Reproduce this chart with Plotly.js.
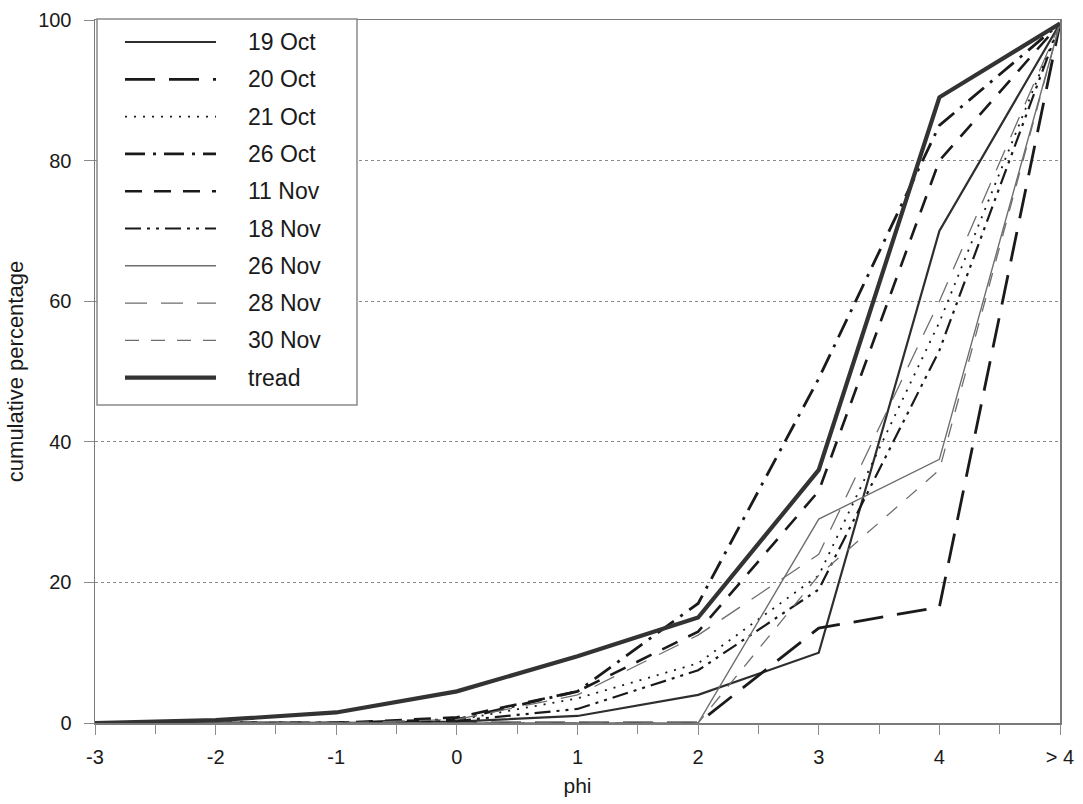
<!DOCTYPE html>
<html>
<head>
<meta charset="utf-8">
<script src="https://cdn.plot.ly/plotly-3.0.1.min.js"></script>
<style>html,body{margin:0;padding:0;background:#fff;}#chart{width:1083px;height:804px;}</style>
</head>
<body>
<div id="chart"></div>
<script>
// ---- data ----
const categories = ['-3', '-2', '-1', '0', '1', '2', '3', '4', '> 4'];
const seriesNames = ['19 Oct', '20 Oct', '21 Oct', '26 Oct', '11 Nov', '18 Nov', '26 Nov', '28 Nov', '30 Nov', 'tread'];
const oct19 = [0, 0, 0, 0.2, 1.0, 4.0, 10.0, 70.0, 99.5];
const oct20 = [0, 0, 0, 0, 0, 0, 13.5, 16.5, 99.5];
const oct21 = [0, 0, 0, 0.4, 3.5, 8.5, 21.0, 57.0, 99.5];
const oct26 = [0, 0, 0, 0.5, 4.5, 17.0, 49.0, 85.0, 99.5];
const nov11 = [0, 0, 0, 0.8, 4.5, 13.0, 33.0, 80.0, 99.5];
const nov18 = [0, 0, 0, 0.3, 2.0, 7.5, 19.0, 53.0, 99.5];
const nov26 = [0, 0, 0, 0, 0, 0, 29.0, 37.5, 99.5];
const nov28 = [0, 0, 0, 0.5, 4.0, 12.5, 24.0, 60.0, 99.5];
const nov30 = [0, 0, 0, 0, 0, 0, 21.0, 36.0, 99.5];
const tread = [0, 0.4, 1.5, 4.5, 9.5, 15.0, 36.0, 89.0, 99.5];
const yTicks = [0, 20, 40, 60, 80, 100];

// ---- styles ----
const seriesValues = [oct19, oct20, oct21, oct26, nov11, nov18, nov26, nov28, nov30, tread];
const styles = [
  {color: '#2e2e2e', width: 2.2, dash: 'solid'},
  {color: '#1a1a1a', width: 2.8, dash: '30px,14px'},
  {color: '#1a1a1a', width: 1.8, dash: '2px,7px'},
  {color: '#1a1a1a', width: 2.8, dash: '20px,8px,3px,8px'},
  {color: '#1a1a1a', width: 2.6, dash: '17px,12px'},
  {color: '#1a1a1a', width: 2.2, dash: '16px,6px,3px,6px,3px,6px'},
  {color: '#6e6e6e', width: 1.4, dash: 'solid'},
  {color: '#6e6e6e', width: 1.3, dash: '22px,14px'},
  {color: '#6e6e6e', width: 1.3, dash: '14px,12px'},
  {color: '#333333', width: 4.2, dash: 'solid'}
];

const traces = seriesValues.map((vals, i) => ({
  type: 'scatter', mode: 'lines', name: seriesNames[i],
  x: categories, y: vals, cliponaxis: false,
  line: {color: styles[i].color, width: styles[i].width, dash: styles[i].dash},
  hoverinfo: 'skip'
}));
// invisible trace carrying the half-step tick axis
traces.push({type: 'scatter', mode: 'lines', x: [0, 8], y: [null, null], xaxis: 'x2', yaxis: 'y', showlegend: false, hoverinfo: 'skip'});

// ---- geometry helpers (pixels -> paper) ----
const L = 95, R = 23, T = 20, B = 81, W = 1083, H = 804;
const pw = W - L - R, ph = H - T - B;
const px = v => (v - L) / pw;
const py = v => (H - B - v) / ph;

const shapes = [];
const annotations = [];
// legend box
shapes.push({type: 'rect', xref: 'paper', yref: 'paper', x0: px(97), x1: px(357), y0: py(405), y1: py(19),
  line: {color: '#8a8a8a', width: 1.5}, fillcolor: 'white', layer: 'above'});
seriesNames.forEach((name, i) => {
  const yy = py(42 + i * 37.3);
  shapes.push({type: 'line', xref: 'paper', yref: 'paper', x0: px(125), x1: px(216), y0: yy, y1: yy,
    line: {color: styles[i].color, width: styles[i].width, dash: styles[i].dash}, layer: 'above'});
  annotations.push({xref: 'paper', yref: 'paper', x: px(246), y: yy, xanchor: 'left', yanchor: 'middle',
    text: name, showarrow: false, font: {size: 23, color: '#1a1a1a'}});
});

const layout = {
  width: W, height: H,
  margin: {l: L, r: R, t: T, b: B, pad: 0},
  paper_bgcolor: 'white', plot_bgcolor: 'white',
  font: {family: 'Arial, "Liberation Sans", sans-serif', size: 19, color: '#1a1a1a'},
  showlegend: false,
  xaxis: {
    type: 'category', categoryarray: categories, categoryorder: 'array', range: [0, 8],
    showline: true, mirror: true, linecolor: '#7a7a7a', linewidth: 1.5,
    ticks: 'outside', ticklen: 10, tickcolor: '#8a8a8a', tickwidth: 1,
    showgrid: false, zeroline: false, ticklabelstandoff: 5,
    tickfont: {size: 20},
    title: {text: 'phi', font: {size: 21}, standoff: 12},
    automargin: false
  },
  xaxis2: {
    overlaying: 'x', anchor: 'y', side: 'bottom', range: [0, 8], tick0: 0, dtick: 0.5,
    ticks: 'outside', ticklen: 10, tickcolor: '#8a8a8a', tickwidth: 1,
    showticklabels: false, showgrid: false, zeroline: false, showline: false
  },
  yaxis: {
    range: [0, 100], tickvals: yTicks, ticktext: yTicks.map(String),
    showline: true, mirror: true, linecolor: '#7a7a7a', linewidth: 1.5,
    ticks: 'outside', ticklen: 10, tickcolor: '#8a8a8a', tickwidth: 1,
    showgrid: true, gridcolor: '#8a8a8a', gridwidth: 1.2, griddash: 'dot',
    zeroline: false, ticklabelstandoff: 8,
    tickfont: {size: 20},
    title: {text: 'cumulative percentage', font: {size: 22}, standoff: 8},
    automargin: false
  },
  shapes: shapes,
  annotations: annotations
};

Plotly.newPlot('chart', traces, layout, {displayModeBar: false, staticPlot: true});
</script>
</body>
</html>
